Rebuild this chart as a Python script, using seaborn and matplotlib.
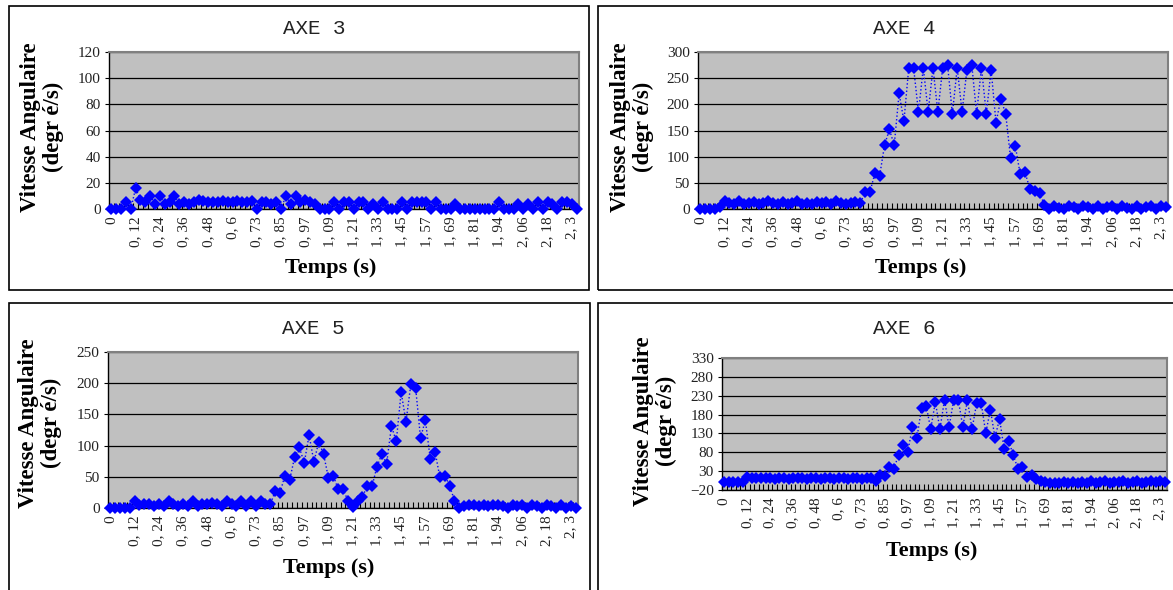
import numpy as np
import pandas as pd
import matplotlib
matplotlib.use("Agg")
import matplotlib.pyplot as plt
from matplotlib.patches import Rectangle
import seaborn as sns

# étiquettes de l'axe des temps (une tous les 5 échantillons)
temps_labels = ["0", "0, 12", "0, 24", "0, 36", "0, 48", "0, 6", "0, 73", "0, 85",
                "0, 97", "1, 09", "1, 21", "1, 33", "1, 45", "1, 57", "1, 69",
                "1, 81", "1, 94", "2, 06", "2, 18", "2, 3"]

# vitesses angulaires (deg/s), 97 échantillons par axe
axe3 = [0, 0, 0, 5, 0, 16,
        7, 5, 10, 4, 10, 4, 5, 10, 4, 5, 4, 5,
        7, 6, 5, 5, 5, 6, 5, 5, 6, 5, 5, 6,
        0, 5, 5, 4, 5, 0,
        10, 4, 10, 5, 7, 5, 4, 0, 0, 0, 5, 0, 5, 5, 0, 5, 5, 0, 4, 0, 5, 0,
        0, 0, 5, 0, 5, 5, 5, 5, 0, 5, 0, 0, 0, 4,
        0, 0, 0, 0, 0, 0, 0, 0,
        5, 0, 0, 0, 4, 0, 4, 0, 5, 0, 5, 4, 0, 5, 5, 4, 0]

axe4 = [0, 0, 0, 0, 3, 16,
        12, 10, 15, 9, 12, 14, 10, 12, 16, 11, 10, 14, 9, 12, 15, 10, 12, 10,
        14, 11, 13, 10, 15, 12, 9, 12, 13, 12,
        32, 33, 68, 64, 122, 152, 122, 221, 168, 270, 270, 185, 270, 185, 270,
        185, 270, 276, 182, 270, 185, 266, 276, 182, 270, 182, 266, 165, 210,
        182, 98, 120, 66, 70, 38, 35, 30, 8, 0,
        5, 2, 0, 5, 4, 0, 5, 3, 0, 5, 0, 4, 5, 0, 5, 2, 0, 5, 0, 4, 5, 0, 5, 4]

axe5 = [0, 0, 0, 0, 0,
        12, 5, 6, 6, 4, 6, 4, 12, 6, 4, 6, 4, 12, 4, 6, 6, 8, 6, 4, 12, 6, 4,
        12, 4, 12, 4, 12, 6, 6,
        27, 24, 52, 45, 81, 97, 72, 117, 74, 106, 86, 48, 52,
        30, 31, 12, 1, 12, 17, 36, 35, 66, 86, 71, 131, 107, 186, 138, 198,
        192, 112, 141, 79, 90, 49, 52, 36, 12, 0,
        3, 5, 5, 3, 5, 3, 5, 5, 3, 0, 5, 3, 5, 0, 5, 3, 0, 5, 3, 0, 5, 0, 3, 0]

axe6 = [0, 0, 0, 0, 2, 15,
        12, 12, 11, 12, 11, 10, 11, 12, 10, 11, 12, 11, 10, 12, 11, 10, 11, 12,
        10, 11, 12, 10, 11, 12, 10, 12, 11,
        5,
        19, 17, 40, 37, 74, 98, 81, 148, 119, 198, 204, 141, 214, 141, 219, 147,
        219, 219, 147, 219, 141, 210, 210, 131, 193, 119, 169, 88, 110, 72, 37,
        40, 15, 19, 8, 4,
        0, -2, -1, -2, 0, -2, 2, -2, 0, -1, 3, -2, 0, 3, -1, 2, 0, 3, -2, 0, 3,
        -1, 2, 3, 0, 3, 2]

yticks3 = [0, 20, 40, 60, 80, 100, 120]
yticks4 = [0, 50, 100, 150, 200, 250, 300]
yticks5 = [0, 50, 100, 150, 200, 250]
yticks6 = [-20, 30, 80, 130, 180, 230, 280, 330]

W, H = 1173, 590
SERIF = "Liberation Serif"

fig = plt.figure(figsize=(W / 100, H / 100), dpi=100)
fig.patch.set_facecolor("white")


def fig_box(x0, y0, x1, y1):
    """pixels (origine en haut à gauche) -> coordonnées figure"""
    return [x0 / W, 1 - y1 / H, (x1 - x0) / W, (y1 - y0) / H]


# titre, données, ticks, zone de tracé, cadre, pos. titre, pos. ylabel, pos. xlabel
panels = [
    ("AXE 3", axe3, yticks3, (109, 52, 579, 209), (9, 6, 589, 290), (314, 29), (42, 127), (331, 268)),
    ("AXE 4", axe4, yticks4, (698, 52, 1168, 209), (598, 6, 1185, 290), (904, 29), (632, 127), (921, 268)),
    ("AXE 5", axe5, yticks5, (108, 352, 578, 508), (9, 303, 590, 600), (313, 328), (40, 423), (329, 568)),
    ("AXE 6", axe6, yticks6, (722, 358, 1167, 490), (598, 303, 1185, 600), (904, 328), (655, 421), (932, 551)),
]

for title, vals, yticks, plot_px, frame_px, tpos, ypos, xpos in panels:
    x0, y0, x1, y1 = frame_px
    fig.add_artist(Rectangle((x0 / W, 1 - y1 / H), (x1 - x0) / W, (y1 - y0) / H,
                             transform=fig.transFigure, fill=False,
                             edgecolor="black", linewidth=1.2))

    ax = fig.add_axes(fig_box(*plot_px))
    ax.set_facecolor("#C0C0C0")
    n = len(vals)
    df = pd.DataFrame({"i": np.arange(n), "v": vals})
    sns.lineplot(data=df, x="i", y="v", ax=ax, color="#0000FF", marker="D",
                 markersize=6, markeredgewidth=0, linestyle=":", linewidth=1,
                 clip_on=False, zorder=4)

    ax.set_xlim(-0.5, n - 0.5)
    ax.set_ylim(yticks[0], yticks[-1])
    ax.set_yticks(yticks)
    ax.set_yticklabels([str(t).replace("-", "\u2212") for t in yticks],
                       fontfamily=SERIF, fontsize=11, color="#222222")
    ax.yaxis.grid(True, color="black", linewidth=0.9)
    ax.set_axisbelow(True)

    ax.set_xticks(np.arange(0, n, 5)[:len(temps_labels)])
    ax.set_xticklabels(temps_labels, rotation=90, fontfamily=SERIF,
                       fontsize=11, color="#222222", va="top", ha="center")
    ax.set_xticks(np.arange(-0.5, n, 1), minor=True)
    ax.tick_params(axis="x", which="major", length=0, pad=5)
    ax.tick_params(axis="x", which="minor", direction="in", length=4,
                   width=0.8, color="black")
    ax.tick_params(axis="y", direction="out", length=3, width=0.8, pad=3)

    for side in ["left", "bottom"]:
        ax.spines[side].set_color("black")
        ax.spines[side].set_linewidth(1.0)
    for side in ["top", "right"]:
        ax.spines[side].set_color("#808080")
        ax.spines[side].set_linewidth(1.5)

    ax.set_xlabel("")
    ax.set_ylabel("")

    fig.text(tpos[0] / W, 1 - tpos[1] / H, title, ha="center", va="center",
             fontfamily="Liberation Mono", fontsize=15, color="#222222")
    fig.text(ypos[0] / W, 1 - ypos[1] / H, "Vitesse Angulaire\n(degr é/s)",
             rotation=90, ha="center", va="center", multialignment="center",
             fontfamily=SERIF, fontweight="bold", fontsize=16.5, linespacing=1.15)
    fig.text(xpos[0] / W, 1 - xpos[1] / H, "Temps (s)", ha="center", va="center",
             fontfamily=SERIF, fontweight="bold", fontsize=16)

fig.savefig("out.png", dpi=100)
